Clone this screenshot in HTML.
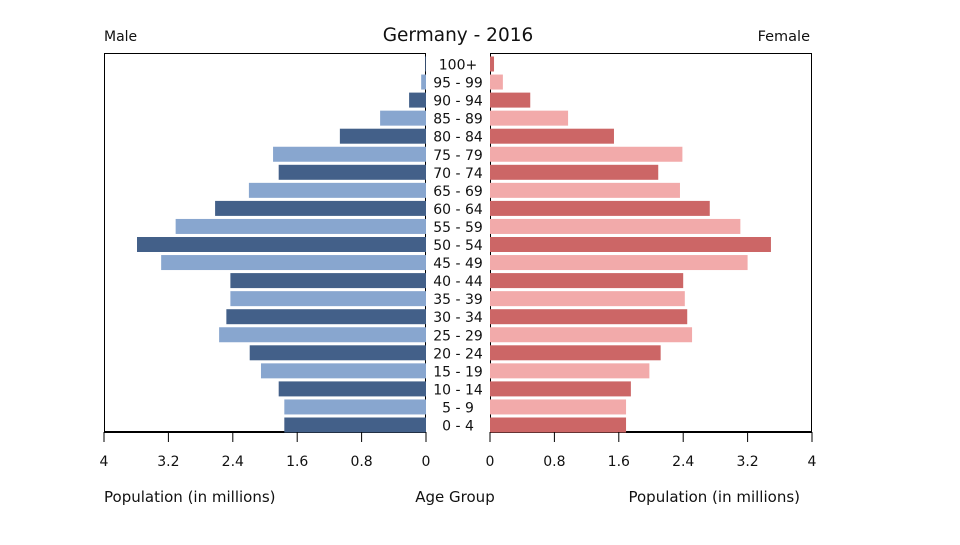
<!DOCTYPE html>
<html><head><meta charset="utf-8"><style>
body{margin:0;background:#fff;}
svg text{font-family:"DejaVu Sans","Liberation Sans",sans-serif;fill:#111;}
</style></head><body>
<svg width="960" height="540" xmlns="http://www.w3.org/2000/svg">
<text x="458" y="41" font-size="18.5" text-anchor="middle">Germany - 2016</text>
<text x="104" y="41" font-size="14">Male</text>
<text x="810" y="41" font-size="14.5" text-anchor="end">Female</text>
<g id="frame" stroke="#000" fill="none">
<path d="M104.5,432 V53.5 H425.5 V432" stroke-width="1"/>
<path d="M490.5,432 V53.5 H811.5 V432" stroke-width="1"/>
<line x1="104" y1="432" x2="426" y2="432" stroke-width="2"/>
<line x1="490" y1="432" x2="812" y2="432" stroke-width="2"/>
</g>
<g id="bars"></g>
<g id="labels"></g>
<g id="ticks"></g>
<text x="104" y="502" font-size="15">Population (in millions)</text>
<text x="455" y="502" font-size="15" text-anchor="middle">Age Group</text>
<text x="800" y="502" font-size="15" text-anchor="end">Population (in millions)</text>
</svg>
<script>
const ageGroups = ["100+","95 - 99","90 - 94","85 - 89","80 - 84","75 - 79","70 - 74","65 - 69","60 - 64","55 - 59","50 - 54","45 - 49","40 - 44","35 - 39","30 - 34","25 - 29","20 - 24","15 - 19","10 - 14","5 - 9","0 - 4"];
const maleValues = [0.01,0.06,0.21,0.57,1.07,1.90,1.83,2.20,2.62,3.11,3.59,3.29,2.43,2.43,2.48,2.57,2.19,2.05,1.83,1.76,1.76];
const femaleValues = [0.05,0.16,0.50,0.97,1.54,2.39,2.09,2.36,2.73,3.11,3.49,3.20,2.40,2.42,2.45,2.51,2.12,1.98,1.75,1.69,1.69];
const tickValues = [0,0.8,1.6,2.4,3.2,4];
const tickLabels = ["0","0.8","1.6","2.4","3.2","4"];

const NS="http://www.w3.org/2000/svg";
const maxV=4, W=322, L0=426, R0=490;
const xLeft=v=>L0-v/maxV*W;
const xRight=v=>R0+v/maxV*W;
const rowTop=55.5, rowH=18.05;
const yRow=i=>rowTop+i*rowH;
function mk(tag,attrs,parent){const e=document.createElementNS(NS,tag);for(const k in attrs)e.setAttribute(k,attrs[k]);parent.appendChild(e);return e;}
const bars=document.getElementById('bars'),labels=document.getElementById('labels'),ticks=document.getElementById('ticks');
ageGroups.forEach((g,i)=>{
  const dark=i%2===0;
  const y=yRow(i)+1, h=15;
  const m=mk('rect',{x:xLeft(maleValues[i]),y:y,width:L0-xLeft(maleValues[i]),height:h,fill:dark?'#436089':'#88a6cf'},bars);
  
  
  const f=mk('rect',{x:R0,y:y,width:xRight(femaleValues[i])-R0,height:h,fill:dark?'#cc6666':'#f2aaaa'},bars);
  
  
  const t=mk('text',{x:458,y:y+13,'font-size':14,'text-anchor':'middle'},labels);
  t.textContent=g;
  
  
});
tickValues.forEach((v,i)=>{
  [xLeft(v),xRight(v)].forEach((x,s)=>{
    const l=mk('line',{x1:x,y1:432,x2:x,y2:442,stroke:'#000','stroke-width':1},ticks);
    
    
    const t=mk('text',{x:x,y:466,'font-size':14,'text-anchor':'middle'},ticks);
    t.textContent=tickLabels[i];
    
    
  });
});
</script>
</body></html>
